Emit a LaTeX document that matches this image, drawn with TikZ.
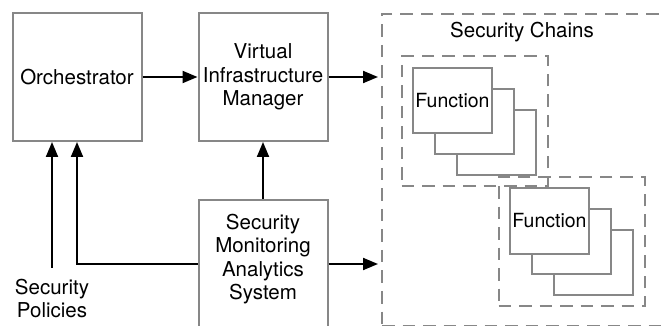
\documentclass[tikz,border=0pt]{standalone}
\usepackage{fontspec}
\setmainfont{TeX Gyre Heros}
\usepackage{xcolor}
\usepackage{tikz}
\usetikzlibrary{arrows.meta,positioning,fit,calc}

\definecolor{edgegray}{gray}{0.53}

\begin{document}
\begin{tikzpicture}[
  x=1pt, y=-1pt,
  >={Triangle[length=15pt,width=12pt]},
  font=\fontsize{20.5}{23.5}\selectfont,
  box/.style={draw=edgegray, line width=2pt, fill=white,
              minimum width=129pt, minimum height=128pt,
              align=center, inner sep=2pt},
  fnbox/.style={draw=edgegray, line width=2pt, fill=white,
                minimum width=79pt, minimum height=65pt,
                inner sep=0pt, font=\fontsize{19.5}{22}\selectfont},
  chainbox/.style={draw=edgegray, line width=2pt, dash pattern=on 12.5pt off 8pt},
  arr/.style={->, line width=2pt},
]
\useasboundingbox (0,0) rectangle (662,326);

%% ─── Control blocks ──────────────────────────────────────────────────────────
\node[box]                      (orch) at (77,77) {Orchestrator};
\node[box, right=55pt of orch]  (vim)  {Virtual\\Infrastructure\\Manager};
\node[box, below=57pt of vim, text depth=14.5pt] (smas)
  {Security\\Monitoring\\Analytics\\System};
\node[align=center, inner sep=11pt] (pol) at (52,298.5) {Security\\Policies};

%% ─── Security chains ─────────────────────────────────────────────────────────
\node[chainbox, minimum width=300pt, minimum height=312pt,
      anchor=north west] (chains) at (381,13) {};
\node (chtitle) at (522,32) {Security Chains};

%% first chain
\foreach \k in {2,1}
  \node[fnbox] (fa\k) at ($(452.5,100.5)+(\k*22,\k*21)$) {};
\node[fnbox] (fa0) at (452.5,100.5) {Function};
\node[chainbox, fit=(fa0)(fa2), inner sep=10.5pt] (chain1) {};

%% second chain
\foreach \k in {2,1}
  \node[fnbox] (fb\k) at ($(549.5,221)+(\k*22,\k*20.7)$) {};
\node[fnbox] (fb0) at (549.5,221) {Function};
\node[chainbox, fit=(fb0)(fb2), inner sep=10.5pt] (chain2) {};

%% ─── Connectors ──────────────────────────────────────────────────────────────
\draw[arr] (orch) -- (vim);
\draw[arr, shorten >=3pt] (vim.east) -- (vim.east -| chains.west);
\draw[arr] (smas) -- (vim);
\draw[arr, shorten >=3pt] (smas.east) -- (smas.east -| chains.west);
\draw[arr] (smas.west) -| (orch.south);
\draw[arr] (pol.north) -- (pol.north |- orch.south);

\end{tikzpicture}
\end{document}
